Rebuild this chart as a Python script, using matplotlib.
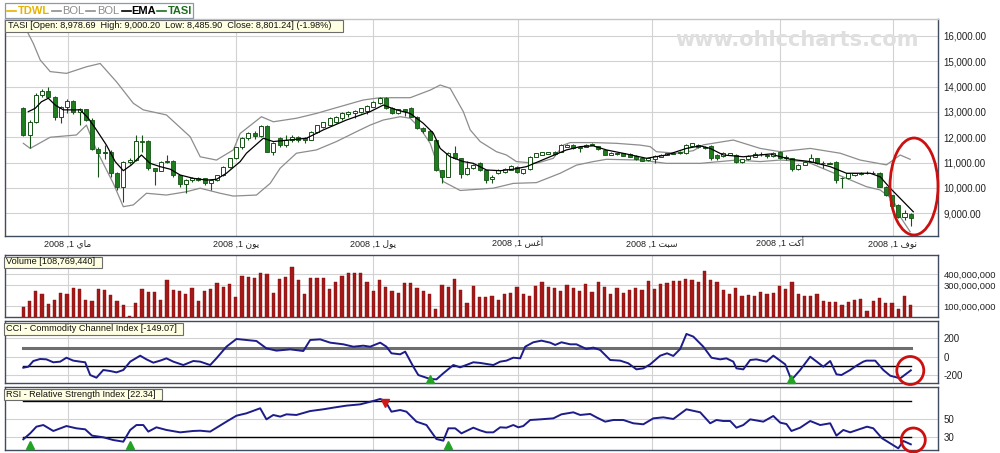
import matplotlib
matplotlib.use("Agg")
import matplotlib.pyplot as plt
from matplotlib.patches import Rectangle, Ellipse
from matplotlib.lines import Line2D
import matplotlib.transforms as mtransforms
import numpy as np

plt.rcParams['font.family'] = ['Liberation Sans', 'DejaVu Sans']

# ---- data (x = trading-day index) ----
opens = [13140, 12090, 12600, 13670, 13830, 13600, 12790, 13200, 13440, 13010,
         13100, 12700, 11520, 11370, 11430, 10600, 10050, 11030, 11100, 11850,
         11850, 10780, 10680, 11030, 11060, 10510, 10160, 10300, 10400, 10380,
         10180, 10310, 10510, 10840, 11170, 11600, 11960, 12180, 12050, 12440,
         11430, 11990, 11700, 11900, 12020, 11980, 11900, 12200, 12400, 12500,
         12600, 12750, 12900, 12950, 13000, 13050, 13200, 13350, 13530, 13170,
         12950, 13100, 13170, 12800, 12380, 12250, 11900, 10700, 10450, 11370,
         11170, 10550, 10800, 11000, 10700, 10350, 10600, 10640, 10710, 10840,
         10600, 10735, 11235, 11300, 11340, 11420, 11430, 11630, 11700, 11570,
         11630, 11700, 11650, 11500, 11300, 11320, 11370, 11340, 11260, 11170,
         11100, 11130, 11240, 11300, 11340, 11370, 11370, 11656, 11700, 11630,
         11656, 11300, 11260, 11300, 11300, 11040, 11130, 11230, 11340, 11260,
         11260, 11430, 11200, 11170, 10740, 10910, 11040, 11170, 10970, 10950,
         11040, 10380, 10380, 10510, 10560, 10580, 10590, 10600, 10050, 9720,
         9330, 8850, 8978.69]
highs = [13180, 12700, 13730, 13900, 13970, 13620, 13250, 13500, 13480, 13150,
         13120, 12750, 11600, 11680, 11500, 10620, 11060, 11200, 12090, 12090,
         11900, 10800, 11060, 11290, 11100, 10530, 10350, 10450, 10450, 10400,
         10330, 10530, 10870, 11200, 11620, 12000, 12220, 12230, 12480, 12500,
         11800, 12000, 12100, 12100, 12050, 12000, 12230, 12500, 12620, 12800,
         12830, 12980, 13030, 13080, 13160, 13270, 13420, 13600, 13600, 13200,
         13120, 13130, 13200, 12820, 12420, 12270, 11920, 10720, 11400, 11650,
         11200, 11070, 10950, 11040, 10720, 10500, 10730, 10780, 10890, 10860,
         10750, 11260, 11390, 11420, 11420, 11440, 11720, 11720, 11720, 11650,
         11720, 11790, 11670, 11520, 11410, 11390, 11390, 11360, 11280, 11190,
         11190, 11280, 11320, 11390, 11410, 11450, 11720, 11780, 11720, 11650,
         11680, 11320, 11410, 11390, 11320, 11150, 11280, 11430, 11400, 11330,
         11410, 11450, 11300, 11190, 10930, 11060, 11340, 11190, 11050, 11020,
         11060, 10450, 10600, 10600, 10640, 10660, 10650, 10620, 10070, 9740,
         9350, 9130, 9000.20]
lows = [12050, 11560, 12580, 13600, 13560, 12700, 12550, 12950, 12900, 12480,
        12650, 11500, 10450, 11160, 10450, 9900, 9460, 10950, 11050, 11430,
        10700, 10110, 10650, 10980, 10450, 10050, 9790, 10250, 10280, 10100,
        9920, 10280, 10480, 10800, 11130, 11550, 11900, 11950, 12000, 11400,
        11300, 11600, 11620, 11800, 11820, 11760, 11880, 12150, 12380, 12480,
        12580, 12700, 12780, 12750, 12950, 12900, 13180, 13330, 13120, 12900,
        12930, 12850, 12780, 12320, 12150, 11880, 10650, 10180, 10420, 11150,
        10380, 10520, 10750, 10680, 10200, 10200, 10550, 10600, 10690, 10600,
        10560, 10720, 11220, 11280, 11320, 11310, 11410, 11610, 11550, 11400,
        11610, 11680, 11500, 11280, 11280, 11300, 11250, 11220, 11110, 11060,
        11080, 11000, 11220, 11280, 11320, 11350, 11350, 11640, 11580, 11540,
        11100, 11100, 11240, 11280, 10970, 10970, 11110, 11210, 11250, 11200,
        11240, 11150, 11100, 10650, 10720, 10890, 11020, 10950, 10800, 10930,
        10180, 9990, 10360, 10490, 10510, 10540, 10540, 10030, 9700, 9270,
        8820, 8740, 8485.90]
closes = [12090, 12600, 13670, 13830, 13600, 12790, 13200, 13440, 13010, 13100,
          12700, 11520, 11370, 11430, 10600, 10050, 11030, 11100, 11850, 11800,
          10780, 10680, 11030, 11060, 10510, 10160, 10300, 10400, 10330, 10180,
          10310, 10510, 10840, 11170, 11600, 11960, 12180, 12050, 12440, 11430,
          11760, 11700, 11900, 12020, 11900, 11880, 12200, 12480, 12600, 12750,
          12800, 12950, 13000, 13050, 13140, 13250, 13400, 13530, 13140, 12950,
          13100, 13050, 12800, 12350, 12250, 11900, 10700, 10450, 11370, 11170,
          10550, 10800, 10900, 10700, 10300, 10450, 10710, 10750, 10870, 10640,
          10730, 11235, 11367, 11400, 11400, 11330, 11700, 11700, 11570, 11630,
          11700, 11720, 11520, 11300, 11390, 11370, 11270, 11240, 11130, 11080,
          11170, 11260, 11300, 11370, 11390, 11430, 11700, 11761, 11600, 11560,
          11170, 11170, 11390, 11370, 11040, 11130, 11260, 11340, 11330, 11280,
          11390, 11170, 11210, 10740, 10910, 11040, 11170, 10970, 10990, 11000,
          10315, 10400, 10580, 10580, 10580, 10600, 10600, 10050, 9720, 9290,
          8840, 9000, 8801.24]
volumes_m = [91, 150, 243, 218, 121, 159, 227, 212, 274, 259,
             159, 153, 259, 252, 203, 153, 112, 9, 128, 259,
             234, 234, 159, 343, 249, 243, 218, 268, 150, 243,
             259, 318, 284, 308, 187, 383, 374, 364, 408, 399,
             227, 358, 374, 464, 349, 212, 364, 364, 364, 259,
             324, 383, 414, 408, 414, 324, 243, 343, 284, 243,
             227, 318, 318, 268, 243, 212, 78, 299, 284, 355,
             249, 128, 290, 190, 190, 196, 159, 218, 227, 284,
             218, 196, 290, 324, 277, 268, 243, 299, 268, 243,
             308, 234, 324, 284, 212, 268, 227, 249, 274, 252,
             333, 259, 308, 318, 340, 333, 355, 343, 324, 430,
             343, 324, 252, 218, 268, 196, 203, 196, 234, 218,
             227, 290, 259, 324, 212, 196, 196, 212, 153, 137,
             143, 112, 143, 162, 168, 56, 153, 178, 128, 131,
             78, 193, 108.77]

bol_upper = [(0.75, 16110), (1.6, 15700), (2.7, 15050), (4.3, 14590), (6.9, 14520),
             (10.1, 14780), (12.3, 14910), (14.9, 14190), (17.6, 13340), (19.2, 13080),
             (22.9, 12880), (26.7, 12020), (28.3, 11230), (30.9, 11100), (33.6, 11500),
             (34.7, 12150), (38.1, 12810), (40.0, 12610), (43.7, 12750), (46.9, 12940),
             (50.7, 13210), (54.4, 13470), (57.1, 13560), (61.9, 13560), (65.1, 13860),
             (66.7, 14060), (68.3, 13930), (70.4, 13010), (71.5, 12290), (73.1, 11830),
             (75.7, 11430), (77.3, 11300), (78.9, 11040), (82.1, 10970), (84.8, 11170),
             (86.4, 11690), (87.5, 11790), (91.2, 11790), (94.9, 11760), (98.7, 11690),
             (100.3, 11630), (101.3, 11430), (104.5, 11370), (107.2, 11470), (108.8, 11700),
             (113.6, 11890), (117.9, 11560), (121.1, 11430), (125.9, 11560), (130.7, 11370),
             (133.9, 11100), (138.1, 10910), (140.3, 11300), (141.9, 11130)]
bol_lower = [(0.0, 11760), (1.1, 11560), (4.3, 12000), (8.5, 12090), (10.1, 12480),
             (11.7, 11500), (14.4, 10180), (16.0, 9260), (17.6, 9330), (19.7, 9790),
             (22.9, 9720), (26.1, 9850), (28.3, 9990), (31.5, 9790), (33.6, 9680),
             (37.3, 9720), (39.5, 10180), (41.1, 10780), (43.7, 11370), (46.9, 11500),
             (50.1, 11830), (53.3, 12220), (55.5, 12480), (57.6, 12680), (60.3, 12810),
             (61.9, 12750), (63.5, 12350), (65.1, 11760), (66.1, 11040), (67.2, 10250),
             (69.9, 9900), (75.2, 9990), (78.4, 10180), (82.1, 10210), (85.9, 10580),
             (88.5, 10900), (91.2, 11040), (93.3, 11130), (98.7, 11100), (102.9, 10970),
             (108.3, 10970), (114.1, 11100), (117.9, 11040), (121.1, 11100), (125.3, 11040),
             (128.5, 10710), (131.7, 10380), (134.9, 10050), (137.1, 9920), (139.2, 9530),
             (140.3, 8870), (141.9, 8270)]
ema = [(0.8, 13010), (1.9, 13140), (2.9, 13400), (4.0, 13540), (5.1, 13270),
       (6.4, 13080), (9.1, 13080), (10.4, 12750), (11.7, 12290), (13.3, 11690),
       (14.7, 11040), (16.0, 10680), (17.3, 10910), (18.9, 11300), (20.3, 10970),
       (21.9, 10840), (23.5, 10740), (25.1, 10510), (27.2, 10380), (29.3, 10310),
       (30.9, 10340), (32.5, 10580), (34.7, 11040), (35.7, 11370), (38.4, 11960),
       (40.0, 11830), (45.3, 11960), (48.0, 12290), (51.7, 12680), (55.5, 13010),
       (57.6, 13270), (59.7, 13080), (61.9, 12940), (64.0, 12550), (65.6, 12160),
       (66.7, 11560), (68.3, 11230), (70.4, 11040), (72.0, 10970), (74.1, 10710),
       (76.3, 10680), (78.4, 10740), (80.5, 10840), (83.7, 11170), (86.9, 11500),
       (89.1, 11630), (91.2, 11660), (93.3, 11500), (96.5, 11340), (99.7, 11170),
       (102.9, 11300), (106.1, 11560), (108.3, 11660), (109.9, 11560), (112.0, 11300),
       (115.2, 11230), (119.5, 11340), (122.7, 11130), (125.9, 11040), (129.1, 10840),
       (131.7, 10580), (135.5, 10580), (137.1, 10440), (138.7, 9990), (140.3, 9590),
       (142.4, 9060)]

cci = [(0, -120), (0.8, -109), (1.6, -47), (2.7, -25), (3.7, -29), (4.8, -61),
       (5.9, -54), (6.9, -11), (8.0, -43), (9.1, -54), (9.9, -61), (10.7, -200),
       (11.7, -229), (12.8, -145), (13.9, -156), (14.9, -171), (16.0, -145), (17.1, -54),
       (18.7, 11), (19.7, -29), (20.8, -65), (21.9, -43), (22.9, -18), (24.0, -54),
       (25.6, -91), (27.2, -47), (28.3, -54), (29.9, -91), (30.9, -18), (32.5, 109),
       (34.1, 193), (35.7, 182), (37.3, 171), (38.9, 91), (40.5, 66), (42.7, 80),
       (44.8, 62), (45.9, 182), (47.5, 189), (49.1, 153), (51.2, 135), (52.8, 109),
       (54.4, 120), (55.5, 109), (57.1, 153), (58.1, 109), (58.9, 37), (60.3, 26),
       (61.1, 55), (62.4, -109), (63.2, -200), (65.1, -243), (66.1, -247), (67.2, -181),
       (68.8, -91), (69.9, -116), (72.0, -61), (73.1, -68), (75.2, -91), (76.3, -54),
       (77.3, -43), (78.4, -11), (79.5, -18), (80.3, 109), (81.6, 157), (82.9, 175),
       (84.3, 153), (85.1, 128), (86.1, 157), (87.5, 135), (88.5, 135), (90.1, 84),
       (91.2, 99), (92.3, 73), (93.9, -36), (95.5, -43), (96.8, -72), (98.1, -138),
       (99.2, -127), (100.3, -83), (101.9, 11), (103.0, 37), (104.0, 8), (105.1, 84),
       (106.1, 248), (107.2, 219), (108.8, 109), (110.1, -11), (111.5, -29), (112.5, -18),
       (113.6, -54), (114.1, -127), (115.2, -138), (116.3, -36), (117.3, -29), (118.9, -54),
       (120.0, 11), (121.9, -83), (122.9, -254), (124.3, -145), (125.9, 0), (128.0, -109),
       (129.1, -47), (130.1, -192), (130.9, -200), (132.3, -145), (133.3, -98), (134.4, -54),
       (134.9, -43), (136.3, -43), (137.6, -145), (138.7, -207), (140.3, -236), (142.0, -149)]
rsi = [(0, 27.8), (1.1, 34.3), (2.1, 41.6), (3.2, 43.4), (4.8, 36.9), (6.9, 42.3),
       (8.5, 39.8), (9.9, 38.7), (11.0, 31.8), (12.8, 30.0), (14.4, 27.0), (16.0, 25.2),
       (17.1, 38.0), (18.1, 43.4), (19.2, 43.4), (20.0, 36.2), (21.3, 40.9), (22.9, 38.0),
       (25.1, 35.4), (27.2, 36.9), (28.3, 37.2), (29.9, 36.2), (32.5, 47.1), (34.1, 53.6),
       (35.7, 56.2), (37.9, 61.7), (38.9, 49.6), (40.0, 54.4), (41.1, 52.6), (42.1, 55.1),
       (43.7, 54.4), (45.9, 58.7), (48.0, 60.6), (49.6, 62.4), (51.7, 64.6), (53.9, 66.0),
       (56.0, 69.7), (57.1, 71.9), (57.9, 69.7), (58.9, 58.0), (60.3, 59.8), (61.3, 58.0),
       (62.9, 47.1), (64.5, 43.4), (66.1, 28.1), (67.2, 26.3), (68.0, 39.8), (69.1, 39.8),
       (70.1, 34.3), (72.0, 40.5), (73.1, 37.5), (74.1, 35.4), (75.2, 35.4), (76.3, 40.9),
       (77.3, 40.5), (78.4, 43.4), (79.2, 40.9), (80.0, 42.3), (81.1, 48.9), (82.7, 49.6),
       (84.8, 50.7), (86.1, 55.1), (88.0, 57.3), (89.1, 54.4), (90.7, 55.5), (91.7, 51.8),
       (93.1, 47.1), (94.4, 48.9), (96.0, 48.9), (97.6, 45.3), (99.2, 44.2), (100.8, 50.7),
       (102.4, 51.8), (104.0, 50.0), (106.1, 60.6), (108.3, 57.3), (109.9, 45.3), (110.9, 48.9),
       (112.0, 47.8), (113.1, 47.8), (114.1, 40.5), (115.2, 43.4), (116.3, 49.6), (118.4, 47.1),
       (120.0, 53.3), (121.1, 46.0), (122.1, 44.5), (122.9, 36.9), (124.3, 40.5), (125.9, 47.8),
       (127.5, 43.4), (129.1, 45.3), (130.1, 31.8), (131.2, 38.0), (132.3, 35.4), (133.9, 39.1),
       (135.0, 41.6), (136.0, 39.8), (137.4, 28.9), (138.7, 23.4), (140.0, 17.9), (140.8, 26.0),
       (142.0, 22.3)]

cci_buy = [(65.1, -245), (122.9, -248)]
rsi_buy = [(1.0, 22), (17.1, 22), (68.0, 22)]
rsi_sell = [(57.9, 67.5)]

month_pos = [7.1, 34.1, 56.0, 79.1, 100.6, 121.0, 139.1]
month_names = ["ماي", "يون", "يول", "أغس", "سبت", "أكت", "نوف"]

price_ticks = [9000, 10000, 11000, 12000, 13000, 14000, 15000, 16000]
vol_ticks = [100e6, 300e6, 400e6]
cci_ticks = [200, 0, -200]
rsi_ticks = [50, 30]

header = "TASI [Open: 8,978.69  High: 9,000.20  Low: 8,485.90  Close: 8,801.24] (-1.98%)"

# ---- simple Arabic shaping (matplotlib draws glyphs left to right, unshaped) ----
AR_FORMS = {  # isolated, final, initial, medial
    "ا": ("\uFE8D", "\uFE8E", None, None),
    "أ": ("\uFE83", "\uFE84", None, None),
    "و": ("\uFEED", "\uFEEE", None, None),
    "ب": ("\uFE8F", "\uFE90", "\uFE91", "\uFE92"),
    "ت": ("\uFE95", "\uFE96", "\uFE97", "\uFE98"),
    "س": ("\uFEB1", "\uFEB2", "\uFEB3", "\uFEB4"),
    "غ": ("\uFECD", "\uFECE", "\uFECF", "\uFED0"),
    "ف": ("\uFED1", "\uFED2", "\uFED3", "\uFED4"),
    "ك": ("\uFED9", "\uFEDA", "\uFEDB", "\uFEDC"),
    "ل": ("\uFEDD", "\uFEDE", "\uFEDF", "\uFEE0"),
    "م": ("\uFEE1", "\uFEE2", "\uFEE3", "\uFEE4"),
    "ن": ("\uFEE5", "\uFEE6", "\uFEE7", "\uFEE8"),
    "ي": ("\uFEF1", "\uFEF2", "\uFEF3", "\uFEF4"),
}


def shape_ar(word):
    out = []
    for k, ch in enumerate(word):
        iso, fin, ini, med = AR_FORMS[ch]
        joins_prev = k > 0 and AR_FORMS[word[k - 1]][2] is not None
        joins_next = ini is not None and k < len(word) - 1
        if joins_prev and joins_next:
            out.append(med)
        elif joins_prev:
            out.append(fin)
        elif joins_next:
            out.append(ini)
        else:
            out.append(iso)
    return "".join(reversed(out))


month_labels = ["2008 ,1 " + shape_ar(m) for m in month_names]

# ---- layout helpers (pixel -> figure fraction) ----
W, H = 1000, 453


def fx(x):
    return x / W


def fy(y):
    return 1 - y / H


def panel(top, bottom):
    return [fx(5), fy(bottom), fx(938) - fx(5), (bottom - top) / H]


GRID = "#d2d2d2"
SPINE = "#3e4c5e"
GREEN = "#1e7d1e"
EDGE = "#155215"
XLIM = (-2.93, 146.35)

fig = plt.figure(figsize=(10, 4.53), dpi=100)

ax = fig.add_axes(panel(19, 235.7))
ax_v = fig.add_axes(panel(255, 317.3))
ax_c = fig.add_axes(panel(321, 383.3))
ax_r = fig.add_axes(panel(386.7, 450))

for a in (ax, ax_v, ax_c, ax_r):
    a.set_xlim(*XLIM)
    a.set_xticks(month_pos)
    a.set_xticklabels([])
    a.grid(True, color=GRID, lw=0.8)
    a.set_axisbelow(True)
    a.yaxis.tick_right()
    a.tick_params(axis="both", length=0, labelsize=7, colors="#222222", pad=4)
    for s in a.spines.values():
        s.set_color(SPINE)
        s.set_linewidth(1.0)
ax.spines["top"].set_color("#c4c4c4")

# ---- price panel ----
idx = np.arange(len(closes))
o = np.array(opens, float)
c = np.array(closes, float)
hi = np.array(highs, float)
lo = np.array(lows, float)
up = c >= o
body_lo = np.minimum(o, c)
body_h = np.maximum(np.abs(c - o), 12)

ax.vlines(idx, lo, hi, color=EDGE, lw=0.8, zorder=3)
ax.bar(idx[up], body_h[up], 0.66, bottom=body_lo[up], color="white",
       edgecolor=EDGE, linewidth=0.7, zorder=4)
ax.bar(idx[~up], body_h[~up], 0.66, bottom=body_lo[~up], color=GREEN,
       edgecolor=EDGE, linewidth=0.6, zorder=4)

for pts in (bol_upper, bol_lower):
    bx, bv = zip(*pts)
    ax.plot(bx, bv, color="#8d8d8d", lw=0.9, zorder=2)
ex, ev = zip(*ema)
ax.plot(ex, ev, color="black", lw=0.9, zorder=5)

ax.set_ylim(8116, 16665)
ax.set_yticks(price_ticks)
ax.set_yticklabels([f"{v:,.2f}" for v in price_ticks])

# month labels on a common baseline (the hamza glyph would otherwise shift one)
xlab_trans = mtransforms.blended_transform_factory(ax.transData, ax.transAxes)
for pos, lab in zip(month_pos, month_labels):
    ax.text(pos, -0.05, lab, transform=xlab_trans, ha="center", va="baseline",
            fontsize=6.5, color="#222222", clip_on=False)

# ---- volume panel ----
vols = np.array(volumes_m) * 1e6
ax_v.bar(idx, vols, 0.52, color="#a51818", edgecolor="#7e1010", linewidth=0.3, zorder=3)
ax_v.set_ylim(-3e6, 581e6)
ax_v.set_yticks(vol_ticks)
ax_v.set_yticklabels([f"{v:,.0f}" for v in vol_ticks], fontsize=6.8)

# ---- CCI panel ----
cx, cv = zip(*cci)
ax_c.plot([0, 142], [100, 100], color="#6e6e6e", lw=2.2, zorder=2)
ax_c.plot([0, 142], [-100, -100], color="black", lw=1.0, zorder=2)
ax_c.plot(cx, cv, color="#1c1c8a", lw=1.4, zorder=4)
bx, bv = zip(*cci_buy)
ax_c.plot(bx, bv, "^", color="#23a323", ms=5.5, zorder=5, clip_on=False)
ax_c.set_ylim(-290, 389)
ax_c.set_yticks(cci_ticks)
ax_c.set_yticklabels([str(v) for v in cci_ticks])

# ---- RSI panel ----
rx, rv = zip(*rsi)
ax_r.plot([0, 142], [70, 70], color="black", lw=1.0, zorder=2)
ax_r.plot([0, 142], [30, 30], color="black", lw=1.0, zorder=2)
ax_r.plot(rx, rv, color="#1c1c8a", lw=1.4, zorder=4)
bx, bv = zip(*rsi_buy)
ax_r.plot(bx, bv, "^", color="#23a323", ms=5.5, zorder=5, clip_on=False)
sx, sv = zip(*rsi_sell)
ax_r.plot(sx, sv, "v", color="#cc1a1a", ms=5.5, zorder=5, clip_on=False)
ax_r.set_ylim(16.1, 85.3)
ax_r.set_yticks(rsi_ticks)
ax_r.set_yticklabels([str(v) for v in rsi_ticks])

# ---- watermark ----
fig.text(fx(797), fy(40), "www.ohlccharts.com", ha="center", va="center",
         fontsize=15, fontweight="bold", color="#dfdfdf", family="DejaVu Sans")

# ---- legend strip at top ----
fig.add_artist(Rectangle((fx(5), fy(18.3)), fx(188), 15 / H, transform=fig.transFigure,
                         facecolor="white", edgecolor="#8a98a8", lw=0.9))
legend_items = [("TDWL", "#e6b400", "bold", 7, 18),
                ("BOL", "#8d8d8d", "normal", 52, 62),
                ("BOL", "#8d8d8d", "normal", 86, 97),
                ("EMA", "black", "bold", 122, 131),
                ("TASI", "#1e6e1e", "bold", 157, 168)]
for name, col, wt, lx, tx in legend_items:
    fig.add_artist(Line2D([fx(lx), fx(lx + 9)], [fy(10.8), fy(10.8)],
                          transform=fig.transFigure, color=col, lw=1.2))
    fig.text(fx(tx), fy(10.8), name, ha="left", va="center", fontsize=8,
             color=col, fontweight=wt)


def label_box(x0, y0, x1, y1, text):
    fig.add_artist(Rectangle((fx(x0), fy(y1)), fx(x1 - x0), (y1 - y0) / H,
                             transform=fig.transFigure, facecolor="#ffffe1",
                             edgecolor="#6d6d6d", lw=0.8, zorder=10))
    fig.text(fx(x0 + 2.5), fy((y0 + y1) / 2), text, ha="left", va="center",
             fontsize=6.6, color="#111111", zorder=11)


label_box(5, 20, 343, 32, header)
label_box(4, 256.5, 102, 267.5, "Volume [108,769,440]")
label_box(4, 323, 183, 334.5, "CCI - Commodity Channel Index [-149.07]")
label_box(4, 389, 162, 400, "RSI - Relative Strength Index [22.34]")

# ---- red highlight rings ----
for cxp, cyp, w, h in [(914, 186.5, 48, 97), (910.3, 370.5, 27, 28), (913.3, 440, 24, 24)]:
    fig.add_artist(Ellipse((fx(cxp), fy(cyp)), w / W, h / H, transform=fig.transFigure,
                           fill=False, edgecolor="#cc1010", lw=2.0, zorder=12))

fig.savefig("out.png", dpi=100)
